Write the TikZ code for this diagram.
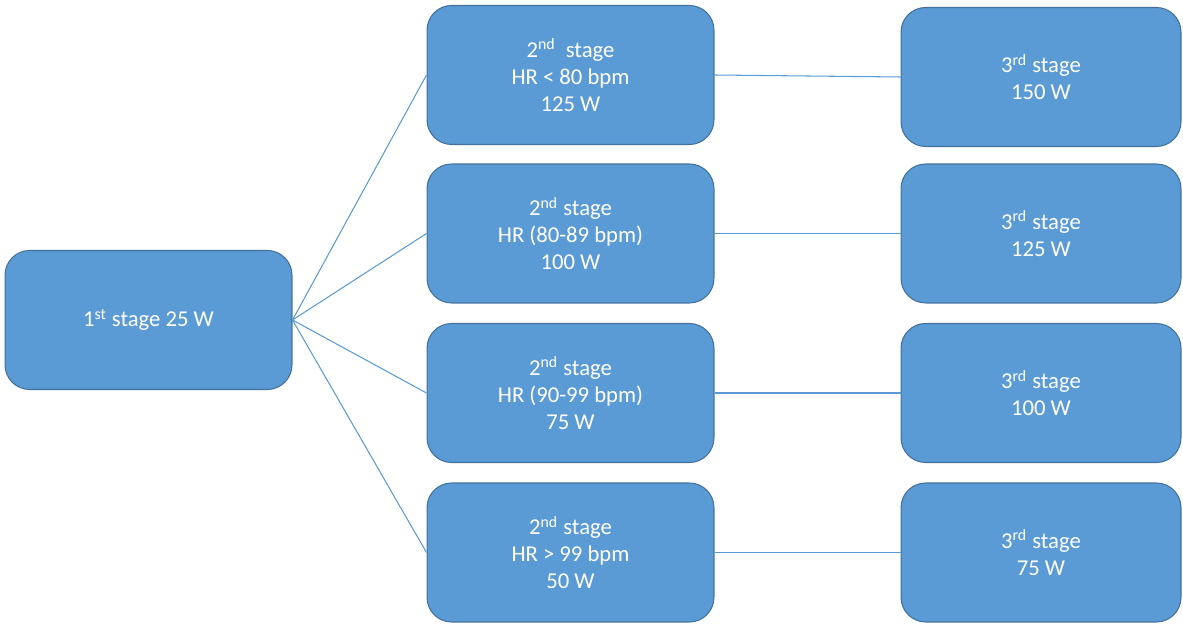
\documentclass[tikz,border=0pt]{standalone}
\usepackage{fontspec}
\setmainfont{Carlito}
\usepackage{tikz}
\usetikzlibrary{positioning}
\definecolor{sblue}{HTML}{5B9BD5}
\definecolor{sedge}{HTML}{41719C}
\tikzset{
  stagebox/.style={draw=sedge, fill=sblue, text=white, rounded corners=14pt,
                   minimum width=5.74cm, minimum height=2.78cm, align=center,
                   font=\fontsize{12.9}{15.4}\selectfont, inner sep=4pt, line width=0.6pt},
  link/.style={sblue, line width=0.6pt},
}

\begin{document}
\begin{tikzpicture}[x=0.02cm, y=-0.02cm]
  \useasboundingbox (0,0) rectangle (1183,624);

  %% First stage
  \node[stagebox] (s1) at (148.5,320) {1\textsuperscript{st} stage 25 W};

  %% Second stage
  \node[stagebox] (s2a) at (570.5,75) {2\textsuperscript{nd}\ \ stage\\HR < 80 bpm\\125 W};
  \node[stagebox] (s2b) at (570.5,233.5) {2\textsuperscript{nd} stage\\HR (80-89 bpm)\\100 W};
  \node[stagebox] (s2c) at (570.5,393) {2\textsuperscript{nd} stage\\HR (90-99 bpm)\\75 W};
  \node[stagebox] (s2d) at (570.5,552.5) {2\textsuperscript{nd} stage\\HR > 99 bpm\\50 W};

  %% Third stage
  \node[stagebox, minimum width=5.6cm] (s3a) at (1041,77) {3\textsuperscript{rd} stage\\150 W};
  \node[stagebox, minimum width=5.6cm] (s3b) at (1041,233.5) {3\textsuperscript{rd} stage\\125 W};
  \node[stagebox, minimum width=5.6cm] (s3c) at (1041,393) {3\textsuperscript{rd} stage\\100 W};
  \node[stagebox, minimum width=5.6cm] (s3d) at (1041,552.5) {3\textsuperscript{rd} stage\\75 W};

  %% Connectors
  \foreach \r in {a,b,c,d}{
    \draw[link] (s1.east) -- (s2\r.west);
    \draw[link] (s2\r.east) -- (s3\r.west);
  }
\end{tikzpicture}
\end{document}
